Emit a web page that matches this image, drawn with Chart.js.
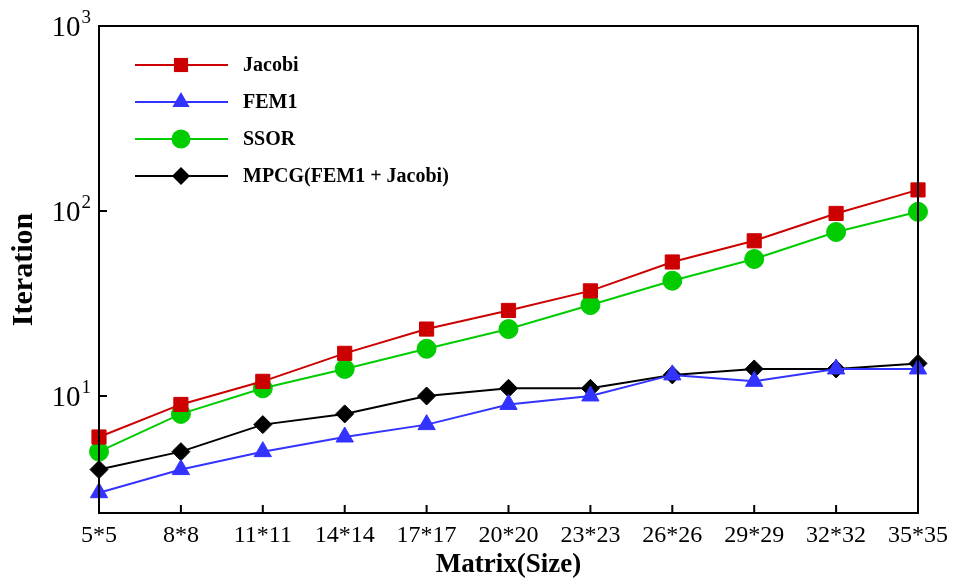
<!DOCTYPE html>
<html>
<head>
<meta charset="utf-8">
<script src="https://cdn.jsdelivr.net/npm/chart.js@4.4.1/dist/chart.umd.min.js"></script>
<style>
  html, body { margin: 0; padding: 0; background: #fff; }
  #wrap { width: 953px; height: 583px; }
</style>
</head>
<body>
<div id="wrap"><canvas id="chart" width="953" height="583"></canvas></div>
<script>
// data
const sizes = ['5*5', '8*8', '11*11', '14*14', '17*17', '20*20', '23*23', '26*26', '29*29', '32*32', '35*35'];
const jacobi = [6, 9, 12, 17, 23, 29, 37, 53, 69, 97, 130];
const fem1 = [3, 4, 5, 6, 7, 9, 10, 13, 12, 14, 14];
const ssor = [5, 8, 11, 14, 18, 23, 31, 42, 55, 77, 99];
const mpcg = [4, 5, 7, 8, 10, 11, 11, 13, 14, 14, 15];
const yTicks = [10, 100, 1000];
const yTickExp = ['1', '2', '3'];

const serif = '"Liberation Serif", "Times New Roman", serif';

// box, inward tick marks and the 10^n labels
const framePlugin = {
    id: 'frame',
    afterDatasetsDraw(chart) {
        const ctx = chart.ctx;
        const a = chart.chartArea;
        const x = chart.scales.x, y = chart.scales.y;
        ctx.save();
        ctx.strokeStyle = '#000';
        ctx.lineWidth = 2;
        ctx.strokeRect(a.left, a.top, a.right - a.left, a.bottom - a.top);
        ctx.beginPath();
        yTicks.forEach(v => {
            const py = y.getPixelForValue(v);
            ctx.moveTo(a.left, py);
            ctx.lineTo(a.left + 8, py);
        });
        sizes.forEach((s, i) => {
            const px = x.getPixelForValue(i);
            ctx.moveTo(px, a.bottom);
            ctx.lineTo(px, a.bottom - 8);
        });
        ctx.stroke();

        // y labels: base and raised exponent
        ctx.fillStyle = '#000';
        ctx.textBaseline = 'alphabetic';
        yTicks.forEach((v, i) => {
            const py = y.getPixelForValue(v);
            ctx.font = '19px ' + serif;
            const ew = ctx.measureText(yTickExp[i]).width;
            const ex = a.left - 8 - ew;
            ctx.textAlign = 'left';
            ctx.fillText(yTickExp[i], ex, py - 3);
            ctx.font = '29px ' + serif;
            ctx.textAlign = 'right';
            ctx.fillText('10', ex - 1, py + 10);
        });
        ctx.restore();
    }
};

// legend drawn inside the plot, line + marker like the original
const legendPlugin = {
    id: 'innerLegend',
    afterDatasetsDraw(chart) {
        const ctx = chart.ctx;
        const a = chart.chartArea;
        ctx.save();
        chart.data.datasets.forEach((ds, i) => {
            const yy = a.top + 39 + i * 37;
            const x0 = a.left + 36, x1 = a.left + 129, xm = a.left + 82;
            ctx.strokeStyle = ds.borderColor;
            ctx.lineWidth = 2;
            ctx.beginPath();
            ctx.moveTo(x0, yy);
            ctx.lineTo(x1, yy);
            ctx.stroke();
            ctx.fillStyle = ds.pointBackgroundColor;
            ctx.beginPath();
            drawMarker(ctx, ds.pointStyle, ds.pointRadius, xm, yy);
            ctx.fill();
            ctx.fillStyle = '#000';
            ctx.font = 'bold 20px ' + serif;
            ctx.textBaseline = 'middle';
            ctx.fillText(ds.label, a.left + 144, yy + 1);
        });
        ctx.restore();
    }
};

function drawMarker(ctx, style, r, x, y) {
    if (style === 'rect') {
        const s = r * Math.SQRT1_2;
        ctx.rect(x - s, y - s, 2 * s, 2 * s);
    } else if (style === 'triangle') {
        ctx.moveTo(x, y - r);
        ctx.lineTo(x + r * 0.866, y + r * 0.5);
        ctx.lineTo(x - r * 0.866, y + r * 0.5);
        ctx.closePath();
    } else if (style === 'rectRot') {
        ctx.moveTo(x, y - r);
        ctx.lineTo(x + r, y);
        ctx.lineTo(x, y + r);
        ctx.lineTo(x - r, y);
        ctx.closePath();
    } else {
        ctx.arc(x, y, r, 0, Math.PI * 2);
    }
}

function series(label, data, color, style, radius) {
    return {
        label: label,
        data: data,
        borderColor: color,
        backgroundColor: color,
        pointBackgroundColor: color,
        pointBorderColor: color,
        pointBorderWidth: 1,
        pointStyle: style,
        pointRadius: radius,
        pointHoverRadius: radius,
        borderWidth: 2,
        tension: 0
    };
}

const ctx = document.getElementById('chart').getContext('2d');
new Chart(ctx, {
    type: 'line',
    data: {
        labels: sizes,
        datasets: [
            series('Jacobi', jacobi, '#cc0000', 'rect', 10),
            series('FEM1', fem1, '#3333ff', 'triangle', 10),
            series('SSOR', ssor, '#00cc00', 'circle', 9.5),
            series('MPCG(FEM1 + Jacobi)', mpcg, '#000000', 'rectRot', 9)
        ]
    },
    options: {
        responsive: false,
        animation: false,
        layout: { padding: { top: 26, right: 35, left: 0, bottom: 0 } },
        plugins: {
            legend: { display: false },
            tooltip: { enabled: false }
        },
        scales: {
            x: {
                type: 'category',
                offset: false,
                grid: { display: false, drawTicks: false },
                border: { display: false },
                ticks: {
                    color: '#000',
                    font: { family: serif, size: 24 },
                    padding: 8,
                    maxRotation: 0,
                    autoSkip: false
                },
                title: {
                    display: true,
                    text: 'Matrix(Size)',
                    color: '#000',
                    font: { family: serif, size: 27, weight: 'bold' },
                    padding: { top: 0, bottom: 2 }
                },
                afterFit(scale) {
                    scale.height = 70;
                    scale.paddingLeft = 0;
                    scale.paddingRight = 0;
                }
            },
            y: {
                type: 'logarithmic',
                min: 2.33,
                max: 1000,
                grid: { display: false, drawTicks: false },
                border: { display: false },
                afterBuildTicks(scale) {
                    scale.ticks = yTicks.map(v => ({ value: v }));
                },
                ticks: { display: false },
                title: {
                    display: true,
                    text: 'Iteration',
                    color: '#000',
                    font: { family: serif, size: 30, weight: 'bold' },
                    padding: { top: 6, bottom: 0 }
                },
                afterFit(scale) {
                    scale.width = 99;
                    scale.paddingTop = 0;
                    scale.paddingBottom = 0;
                }
            }
        }
    },
    plugins: [framePlugin, legendPlugin]
});
</script>
</body>
</html>
